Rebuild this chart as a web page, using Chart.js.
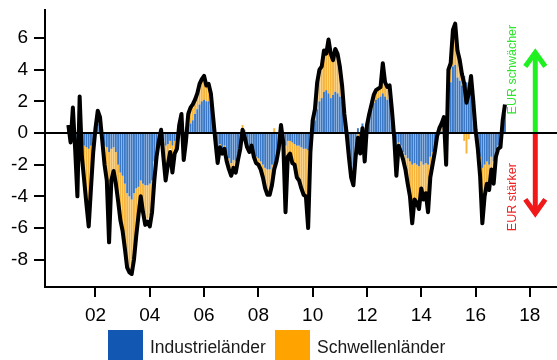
<!DOCTYPE html>
<html>
<head>
<meta charset="utf-8">
<script src="https://cdn.jsdelivr.net/npm/chart.js@4/dist/chart.umd.min.js"></script>
<style>
  html, body { margin: 0; padding: 0; background: #fff; }
  canvas { display: block; }
</style>
</head>
<body>
<canvas id="c" width="557" height="360"></canvas>
<script>
// Monthly observations, starting January 2001
const firstMonth = 2001;

// Beitrag Industrieländer (one row per year)
const industrial = [
  0.2, -0.2, 0.4, -0.3, -0.5, 0.6, -0.5, -0.8, -0.9, -1.0, -0.8, -0.5,   // 2001
  0.2, 0.6, 0.5, -0.3, -0.8, -0.9, -1.2, -1.0, -0.9, -1.2, -2.0, -2.5,   // 2002
  -2.7, -3.2, -3.8, -4.0, -4.2, -3.8, -3.5, -3.4, -3.0, -3.2, -3.3, -3.3, // 2003
  -3.2, -3.0, -1.8, -1.0, -0.3, 0.1, -0.5, -0.8, -0.7, -0.5, -0.8, -0.5, // 2004
  -0.3, 0.2, 0.5, -0.5, -0.2, 0.5, 0.6, 0.8, 1.2, 1.5, 1.8, 2.0,         // 2005
  2.1, 2.0, 2.0, 1.7, 0.7, -0.4, -1.0, -0.7, -1.0, -0.8, -1.3, -1.6,     // 2006
  -1.9, -1.7, -1.8, -1.3, -0.8, -0.3, -0.5, -0.8, -1.0, -0.7, -1.2, -1.5, // 2007
  -1.6, -1.8, -2.0, -2.2, -2.3, -2.3, -2.0, -2.6, -1.6, -0.8, 0.2, -0.4, // 2008
  -0.8, -0.5, -0.5, -0.6, -0.7, -0.8, -0.8, -0.9, -1.0, -1.0, -1.1, -0.5, // 2009
  0.5, 0.8, 1.5, 2.0, 2.2, 2.6, 2.7, 2.5, 2.2, 2.4, 2.6, 2.5,            // 2010
  2.3, 2.0, 1.0, 0.0, -1.2, -2.0, -2.3, -1.0, 0.3, -0.8, 0.6, -1.2,      // 2011
  0.5, 1.0, 1.5, 1.9, 2.1, 2.2, 2.3, 2.5, 2.3, 2.1, 2.2, 1.2,            // 2012
  -0.1, -1.0, -0.6, -0.8, -1.2, -1.4, -1.6, -1.8, -2.0, -1.9, -2.0, -2.1, // 2013
  -1.8, -2.0, -1.9, -2.0, -1.5, -1.2, -0.9, -0.2, -0.1, 0.1, 0.6, -0.3,  // 2014
  2.8, 3.2, 4.2, 4.3, 3.5, 3.3, 3.0, 3.6, 3.2, 2.9, 3.0, 1.8,            // 2015
  0.2, -0.7, -1.5, -2.2, -2.0, -1.8, -2.0, -1.5, -1.8, -1.1, -0.8, -0.7, // 2016
  0.5, 1.2                                                               // 2017
];

// Beitrag Schwellenländer
const emerging = [
  0.2, -0.3, 0.8, -0.5, -1.0, 0.9, -0.8, -1.9, -3.1, -3.5, -2.4, -0.6,   // 2001
  0.1, 0.7, 0.4, -0.2, -1.0, -1.8, -2.4, -1.8, -1.4, -1.9, -2.1, -2.9,   // 2002
  -3.3, -3.9, -4.5, -4.6, -4.5, -4.0, -2.8, -1.6, -0.9, -1.6, -2.3, -2.1, // 2003
  -2.0, -1.6, -0.9, -0.4, -0.2, 0.1, -0.6, -1.2, -0.9, -0.5, -1.0, -0.6, // 2004
  -0.5, 0.2, 0.5, -0.7, -0.2, 0.5, 0.8, 0.8, 0.8, 0.9, 1.2, 1.3,         // 2005
  1.4, 1.0, 1.0, 0.7, 0.3, -0.1, -0.3, -0.2, -0.3, -0.2, -0.4, -0.6,     // 2006
  -0.7, -0.5, -0.6, -0.4, -0.2, 0.5, 0.2, -0.1, -0.2, -0.1, -0.3, -0.4,  // 2007
  -0.4, -0.5, -0.8, -1.2, -1.5, -1.5, -1.2, 0.3, -0.2, -0.2, 0.3, -0.2,  // 2008
  -1.5, -0.9, -0.8, -1.2, -1.3, -1.9, -2.1, -2.5, -2.8, -2.9, -3.0, -0.6, // 2009
  0.3, 0.7, 1.6, 2.0, 2.0, 2.5, 2.3, 3.0, 2.7, 2.2, 2.6, 2.4,            // 2010
  1.9, 1.0, 0.2, 0.0, -0.3, -0.8, -1.0, -0.5, -0.6, -0.5, -0.3, -0.6,    // 2011
  0.0, 0.2, 0.3, 0.5, 0.6, 0.6, 0.6, 0.9, 0.9, 0.8, 0.8, 0.3,            // 2012
  -0.1, -0.6, -0.2, -0.4, -0.5, -0.9, -1.6, -2.2, -2.4, -2.3, -2.4, -2.7, // 2013
  -1.7, -2.2, -1.9, -2.3, -1.3, -0.8, -0.3, 0.0, 0.4, 0.5, 0.4, -1.0,    // 2014
  1.2, 1.2, 1.6, 1.9, 1.5, 1.3, 0.7, -0.5, -1.3, -0.4, 0.6, 0.2,         // 2015
  0.0, -0.3, -1.2, -1.8, -1.9, -1.4, -1.6, -0.8, -1.4, -0.4, -0.2, -0.2, // 2016
  0.3, 0.5                                                               // 2017
];

// Gesamt
const total = [
  0.5, -0.6, 1.6, -1.0, -4.0, 2.3, -1.5, -3.0, -4.5, -5.9, -3.5, -1.2,   // 2001
  0.3, 1.4, 1.0, -0.5, -2.0, -3.0, -6.9, -3.0, -2.4, -3.2, -4.3, -5.5,   // 2002
  -6.2, -7.3, -8.5, -8.8, -8.9, -8.0, -6.5, -5.2, -4.0, -5.0, -5.8, -5.6, // 2003
  -5.9, -5.0, -3.0, -1.5, -0.5, 0.2, -1.5, -3.0, -2.0, -1.2, -2.5, -1.3, // 2004
  -1.0, 0.5, 1.2, -1.7, -0.5, 1.2, 1.6, 1.8, 2.1, 2.5, 3.1, 3.4,         // 2005
  3.6, 3.0, 3.1, 2.5, 1.0, -0.5, -1.9, -0.9, -1.3, -1.0, -1.8, -2.3,     // 2006
  -2.7, -2.2, -2.5, -1.7, -1.0, 0.2, -0.3, -0.9, -1.2, -0.8, -1.5, -1.9, // 2007
  -2.0, -2.3, -2.8, -3.5, -3.9, -3.9, -3.3, -2.3, -1.8, -1.0, 0.5, -0.6, // 2008
  -5.0, -1.5, -1.3, -1.9, -2.0, -2.8, -3.0, -3.5, -3.9, -4.0, -6.0, -1.2, // 2009
  0.8, 1.5, 3.2, 4.0, 4.2, 5.2, 5.0, 5.9, 5.0, 4.6, 5.3, 5.0,            // 2010
  4.2, 3.0, 1.2, 0.0, -1.5, -2.8, -3.3, -1.5, -0.3, -1.3, 0.3, -1.8,     // 2011
  0.5, 1.2, 1.8, 2.4, 2.7, 2.8, 2.9, 4.4, 3.2, 2.9, 3.0, 1.5,            // 2012
  -0.2, -2.7, -0.8, -1.2, -1.7, -2.3, -3.2, -4.0, -5.7, -4.2, -4.4, -4.8, // 2013
  -3.5, -4.2, -3.8, -5.0, -2.8, -2.0, -1.2, -0.2, 0.3, 0.6, 1.0, -2.0,   // 2014
  4.0, 4.4, 6.5, 6.9, 5.2, 4.6, 3.7, 3.1, 1.9, 2.5, 3.6, 2.0,            // 2015
  0.2, -1.0, -2.7, -5.7, -4.0, -3.2, -3.6, -2.3, -3.2, -1.5, -1.0, -0.9, // 2016
  0.8, 1.8                                                               // 2017
];

const seriesNames = ['Industrieländer', 'Schwellenländer'];
const yTicks = [-8, -6, -4, -2, 0, 2, 4, 6];
const yTickLabels = ['-8', '-6', '-4', '-2', '0', '2', '4', '6'];
const xTicks = [2002, 2004, 2006, 2008, 2010, 2012, 2014, 2016, 2018];
const xTickLabels = ['02', '04', '06', '08', '10', '12', '14', '16', '18'];
const arrowTexts = ['EUR schwächer', 'EUR stärker'];

const FONT = 'Arial, "Liberation Sans", sans-serif';
const BLUE = '#3b79c6', ORANGE = '#f7b53c';
const LEGEND_BLUE = '#1257b2', LEGEND_ORANGE = '#ffa300';
const GREEN = '#1ff01f', RED = '#f01818';

const toPoints = arr => arr.map((v, i) => ({ x: firstMonth + i / 12, y: v }));

const overlay = {
  id: 'overlay',
  afterDatasetsDraw(chart) {
    const { ctx, chartArea: a, scales: { y } } = chart;
    const y0 = Math.round(y.getPixelForValue(0));
    ctx.save();
    ctx.strokeStyle = '#000';
    ctx.lineWidth = 2;
    ctx.beginPath();
    ctx.moveTo(a.left, y0);
    ctx.lineTo(a.right, y0);
    ctx.stroke();
    ctx.restore();
  },
  afterDraw(chart) {
    const { ctx, scales: { x, y } } = chart;
    ctx.save();
    // direction arrows
    const ax = x.getPixelForValue(2018.2);
    const y0 = y.getPixelForValue(0);
    const drawArrow = (tipVal, color) => {
      const tip = y.getPixelForValue(tipVal);
      const dir = tip < y0 ? 1 : -1;
      ctx.strokeStyle = color;
      ctx.lineWidth = 5;
      ctx.lineCap = 'butt';
      ctx.lineJoin = 'miter';
      ctx.beginPath();
      ctx.moveTo(ax, y0 + (dir > 0 ? -1 : 1));
      ctx.lineTo(ax, tip + dir * 2);
      ctx.stroke();
      ctx.beginPath();
      ctx.moveTo(ax - 10, tip + dir * 16);
      ctx.lineTo(ax, tip + dir * 2);
      ctx.lineTo(ax + 10, tip + dir * 16);
      ctx.stroke();
    };
    drawArrow(5.2, GREEN);
    drawArrow(-5.2, RED);

    // rotated captions
    const tx = x.getPixelForValue(2017.38);
    ctx.font = '12.5px ' + FONT;
    ctx.textAlign = 'center';
    ctx.textBaseline = 'middle';
    [[arrowTexts[0], 4.0, '#30e430'], [arrowTexts[1], -4.05, '#ee2424']].forEach(([t, v, c]) => {
      ctx.save();
      ctx.translate(tx, y.getPixelForValue(v));
      ctx.rotate(-Math.PI / 2);
      ctx.fillStyle = c;
      ctx.fillText(t, 0, 0);
      ctx.restore();
    });

    // legend
    ctx.font = '17.5px ' + FONT;
    ctx.textAlign = 'left';
    ctx.textBaseline = 'middle';
    const items = [[108, LEGEND_BLUE, seriesNames[0]], [275, LEGEND_ORANGE, seriesNames[1]]];
    items.forEach(([lx, c, t]) => {
      ctx.fillStyle = c;
      ctx.fillRect(lx, 330, 35, 36);
      ctx.fillStyle = '#1a1a1a';
      ctx.fillText(t, lx + 42, 348);
    });
    ctx.restore();
  }
};

new Chart(document.getElementById('c'), {
  data: {
    datasets: [
      {
        type: 'line', label: 'Gesamt', data: toPoints(total), stack: 'gesamt',
        borderColor: '#000', borderWidth: 4, pointRadius: 0, tension: 0,
        borderJoinStyle: 'round', fill: false
      },
      {
        type: 'bar', label: seriesNames[0], data: toPoints(industrial), stack: 'laender',
        backgroundColor: BLUE, borderWidth: 0, barPercentage: 0.86, categoryPercentage: 1
      },
      {
        type: 'bar', label: seriesNames[1], data: toPoints(emerging), stack: 'laender',
        backgroundColor: ORANGE, borderWidth: 0, barPercentage: 0.86, categoryPercentage: 1
      }
    ]
  },
  options: {
    responsive: false,
    animation: false,
    layout: { padding: { top: 10, right: 0, bottom: 0, left: 0 } },
    plugins: { legend: { display: false }, tooltip: { enabled: false } },
    scales: {
      x: {
        type: 'linear', min: 2000.14, max: 2019.0, stacked: true, offset: false,
        afterBuildTicks: s => { s.ticks = xTicks.map(v => ({ value: v })); },
        afterFit: s => { s.height = 73; s.paddingLeft = 0; s.paddingRight = 0; },
        ticks: {
          autoSkip: false, maxRotation: 0, padding: 7, color: '#000',
          font: { family: FONT, size: 19 },
          callback: (v, i) => xTickLabels[i]
        },
        grid: { offset: false, drawOnChartArea: false, drawTicks: true, tickLength: 10, color: '#000', lineWidth: 2 },
        border: { color: '#000', width: 2 }
      },
      y: {
        type: 'linear', min: -9.72, max: 7.76, stacked: true,
        afterBuildTicks: s => { s.ticks = yTicks.map(v => ({ value: v })); },
        afterFit: s => { s.width = 45; s.paddingTop = 0; s.paddingBottom = 0; },
        ticks: {
          padding: 6, color: '#000',
          font: { family: FONT, size: 19 },
          callback: (v, i) => yTickLabels[i]
        },
        grid: { drawOnChartArea: false, drawTicks: true, tickLength: 11, color: '#000', lineWidth: 2 },
        border: { color: '#000', width: 2 }
      }
    }
  },
  plugins: [overlay]
});
</script>
</body>
</html>
